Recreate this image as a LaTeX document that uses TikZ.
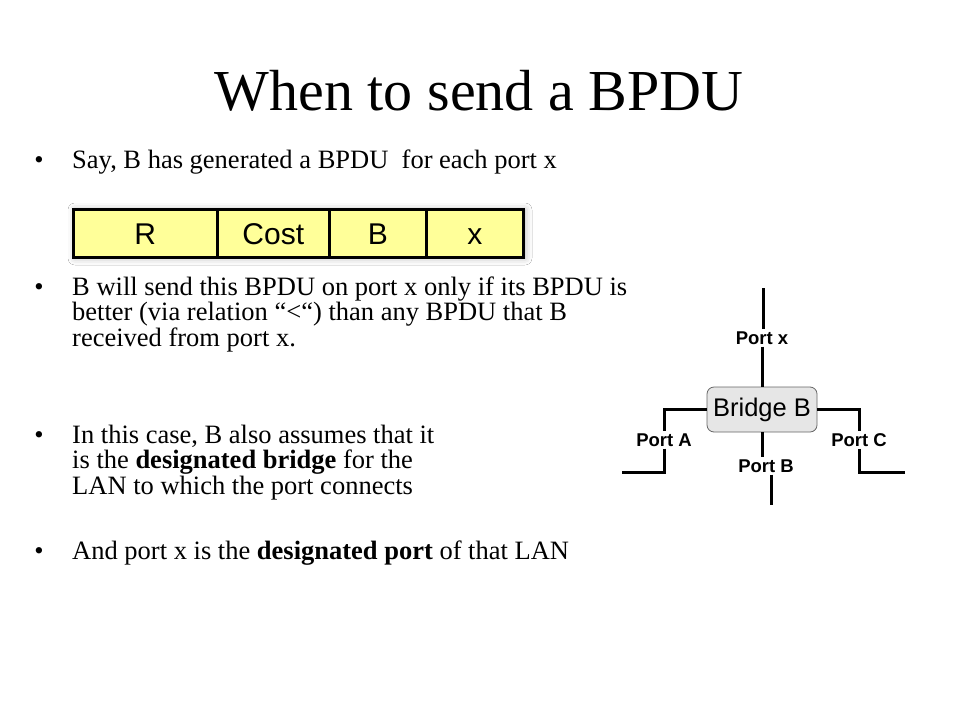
\documentclass[tikz,border=0pt]{standalone}
\usepackage{fontspec}
\setmainfont{Liberation Serif}
\setsansfont{Liberation Sans}
\usetikzlibrary{positioning,shadows.blur}

\tikzset{
  bullettext/.style={anchor=base west,inner sep=0pt,align=left,
    font=\fontsize{26.5}{25.5}\selectfont},
  dot/.style={anchor=base,inner sep=0pt,font=\fontsize{26.5}{25.5}\selectfont},
  field/.style={draw,line width=2.5pt,fill=fieldyellow,minimum height=48pt,
    inner sep=0pt,text height=21.5pt,text depth=0pt,
    font=\sffamily\fontsize{30}{32}\selectfont},
  portlabel/.style={inner sep=2pt,font=\sffamily\bfseries\fontsize{18.5}{20}\selectfont},
  wire/.style={line width=3pt},
}
\definecolor{fieldyellow}{RGB}{255,255,153}
\definecolor{bridgegray}{RGB}{230,230,230}

\begin{document}
\begin{tikzpicture}[x=1pt,y=-1pt]
\useasboundingbox[fill=white] (0,0) rectangle (960,720);

% title
\node[anchor=base,inner sep=0pt,font=\fontsize{58}{60}\selectfont] (title) at (479,110) {When to send a BPDU};

% bullets (multi-line nodes are placed at their last baseline)
\node[dot] (d1) at (39,168) {•};
\node[bullettext] (t1) at (72,168) {Say, B has generated a BPDU\ \ for each port x};

% BPDU fields
\path[fill=white,blur shadow={shadow xshift=3pt,shadow yshift=-2pt,
  shadow blur radius=7pt,shadow opacity=30}] (72,208) rectangle (522,256);
\node[field,minimum width=144pt,anchor=north west] (R) at (72,208) {R};
\node[field,minimum width=112pt,right=-2.5pt of R] (cost) {Cost};
\node[field,minimum width=97pt,right=-2.5pt of cost] (bid) {B};
\node[field,minimum width=97pt,right=-2.5pt of bid] (px) {x};

\node[dot] (d2) at (39,295) {•};
\node[bullettext] (t2) at (72,346) {B will send this BPDU on port x only if its BPDU is\\
  better (via relation “<“) than any BPDU that B\\
  received from port x.};

\node[dot] (d3) at (39,443) {•};
\node[bullettext] (t3) at (72,494) {In this case, B also assumes that it\\
  is the \textbf{designated bridge} for the\\
  LAN to which the port connects};

\node[dot] (d4) at (39,559) {•};
\node[bullettext] (t4) at (72,559) {And port x is the \textbf{designated port} of that LAN};

% bridge with its ports
\node[draw=gray!80!black,line width=0.8pt,fill=bridgegray,rounded corners=7pt,
  minimum width=110pt,minimum height=45pt,inner sep=0pt,
  font=\sffamily\fontsize{25.5}{27}\selectfont] (bridge) at (762,409.5) {Bridge B};
\node[portlabel] (portx) at (762,338) {Port x};
\node[portlabel] (porta) at (664,440) {Port A};
\node[portlabel] (portc) at (859,440) {Port C};
\node[portlabel] (portb) at (766,466) {Port B};
\coordinate (xend) at (763,288);
\coordinate (aend) at (622,472);
\coordinate (cend) at (905,472);
\coordinate (bend) at (771,505);

\draw[wire] (xend) -- (xend |- portx.north);
\draw[wire] (portx.south) -- (bridge.north);
\draw[wire] (bridge.west) -| (porta.north);
\draw[wire] (porta.south) |- (aend);
\draw[wire] (bridge.east) -| (portc.north);
\draw[wire] (portc.south) |- (cend);
\draw[wire] (bridge.south) -- (bridge.south |- portb.north);
\draw[wire] (bend |- portb.south) -- (bend);
\end{tikzpicture}
\end{document}
